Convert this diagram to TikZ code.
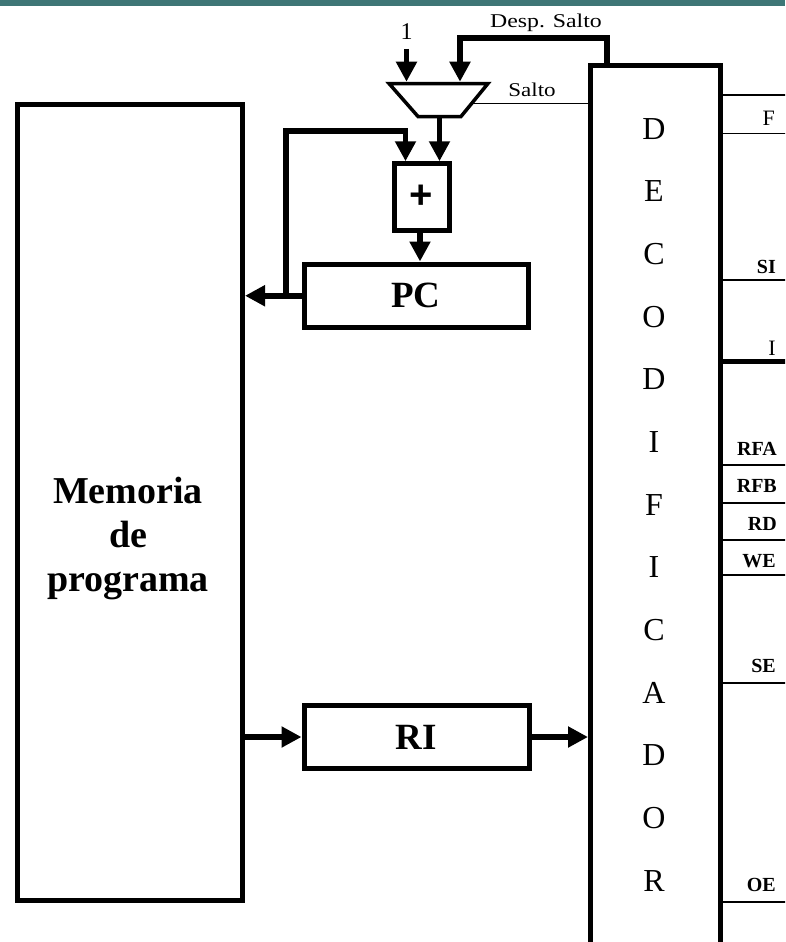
\documentclass[tikz,border=0pt]{standalone}
\usepackage{fontspec}
\setmainfont{Liberation Serif}
\newfontfamily\plusfont{Liberation Sans}
\usepackage{graphicx}
\usetikzlibrary{arrows.meta,calc}
\definecolor{band}{RGB}{62,118,118}
\begin{document}
\begin{tikzpicture}[x=1pt,y=-1pt,
  box/.style={draw, line width=5pt, inner sep=0pt},
  arr/.style={line width=5.5pt, line join=miter, -{Triangle[length=20pt,width=20pt]}},
  sig/.style={line width=1.6pt},
  sigthick/.style={line width=5pt},
  dlet/.style={font=\fontsize{32}{32}\selectfont, anchor=base, inner sep=0pt},
  lab/.style={font=\fontsize{20}{20}\selectfont\bfseries, anchor=base east, inner sep=0pt},
  labr/.style={font=\fontsize{22}{22}\selectfont, anchor=base east, inner sep=0pt},
  small/.style={font=\fontsize{19.5}{19.5}\selectfont, anchor=base, inner sep=0pt}]
\useasboundingbox (0,0) rectangle (785,942);
\clip (0,0) rectangle (785,942);
\fill[band] (0,0) rectangle (785,6);

% blocks
\node[box, minimum width=225pt, minimum height=795.5pt] (mem) at (130,502.25) {};
\node[font=\fontsize{38}{44}\selectfont\bfseries, align=center, inner sep=0pt] (memtxt) at (128,538.5) {Memoria\\de\\programa};
\node[box, minimum width=224pt, minimum height=63.5pt, font=\fontsize{37}{37}\selectfont\bfseries] (pc) at (416,295.75) {PC};
\node[box, minimum width=225pt, minimum height=63pt, font=\fontsize{37}{37}\selectfont\bfseries] (ri) at (416.5,737) {RI};
\node[box, minimum width=55pt, minimum height=66.5pt, font=\fontsize{40}{40}\selectfont\plusfont\bfseries] (add) at (421.5,197) {+};
\node[box, minimum width=130pt, minimum height=934.5pt] (dec) at (655.5,532.75) {};
\foreach \c [count=\i from 0] in {D,E,C,O,D,I,F,I,C,A,D,O,R}
  \node[dlet] (dl\i) at (654,{139+62.67*\i}) {\c};

% multiplexer
\coordinate (m1) at (389,83.5);
\coordinate (m2) at (488,83.5);
\coordinate (m3) at (461,116.5);
\coordinate (m4) at (418,116.5);
\draw[line width=3.5pt, line join=miter] (m1) -- (m2) -- (m3) -- (m4) -- cycle;
\coordinate (in1) at (406.5,81.75);
\coordinate (in2) at (460,81.75);
\coordinate (one) at (406.5,49);
\coordinate (mo) at (439.5,116.5);
\coordinate (ms) at (471.8,103.3);
\coordinate (despx) at (607,0);
\coordinate (desptop) at (460,38);

\node[font=\fontsize{24}{24}\selectfont, anchor=base, inner sep=0pt] (onelab) at (406.5,40) {1};
\node[small] (desplab) at (546,27.3) {\scalebox{1.22}[1]{Desp. Salto}};
\node[small] (saltolab) at (532,96.7) {\scalebox{1.18}[1]{Salto}};

\draw[arr] (one) -- (in1);
\draw[arr] (dec.north -| despx) |- (desptop) -- (in2);
\draw[sig] (ms) -- (ms -| dec.west);
\draw[arr] (mo) -- (mo |- add.north);

% adder / PC
\coordinate (ax) at (420,0);
\draw[arr] (add.south -| ax) -- (pc.north -| ax);
\coordinate (fb) at (286,295.75);
\coordinate (fbtop) at (405.5,131);
\draw[arr] (pc.west) -- (pc.west -| mem.east);
\draw[arr] (fb) |- (fbtop) -- (fbtop |- add.north);

% RI
\draw[arr] (mem.east |- ri.west) -- (ri.west);
\draw[arr] (ri.east) -- (ri.east -| dec.west);

% control outputs
\draw[sig] (dec.east |- 0,95) -- (790,95);
\draw[sig] (dec.east |- 0,133.3) -- (790,133.3);
\draw[sig] (dec.east |- 0,280) -- (790,280);
\draw[sigthick] (dec.east |- 0,361.5) -- (790,361.5);
\draw[sig] (dec.east |- 0,465) -- (790,465);
\draw[sig] (dec.east |- 0,502.7) -- (790,502.7);
\draw[sig] (dec.east |- 0,540) -- (790,540);
\draw[sig] (dec.east |- 0,575) -- (790,575);
\draw[sig] (dec.east |- 0,683) -- (790,683);
\draw[sig] (dec.east |- 0,901.7) -- (790,901.7);

\node[labr] (lF) at (775,125) {F};
\node[lab] (lSI) at (776,273) {SI};
\node[labr] (lI) at (776,355) {I};
\node[lab] (lRFA) at (777,455) {RFA};
\node[lab] (lRFB) at (777,492.7) {RFB};
\node[lab] (lRD) at (777,530) {RD};
\node[lab] (lWE) at (776,567.7) {WE};
\node[lab] (lSE) at (776,672) {SE};
\node[lab] (lOE) at (776,891.7) {OE};
\end{tikzpicture}
\end{document}
